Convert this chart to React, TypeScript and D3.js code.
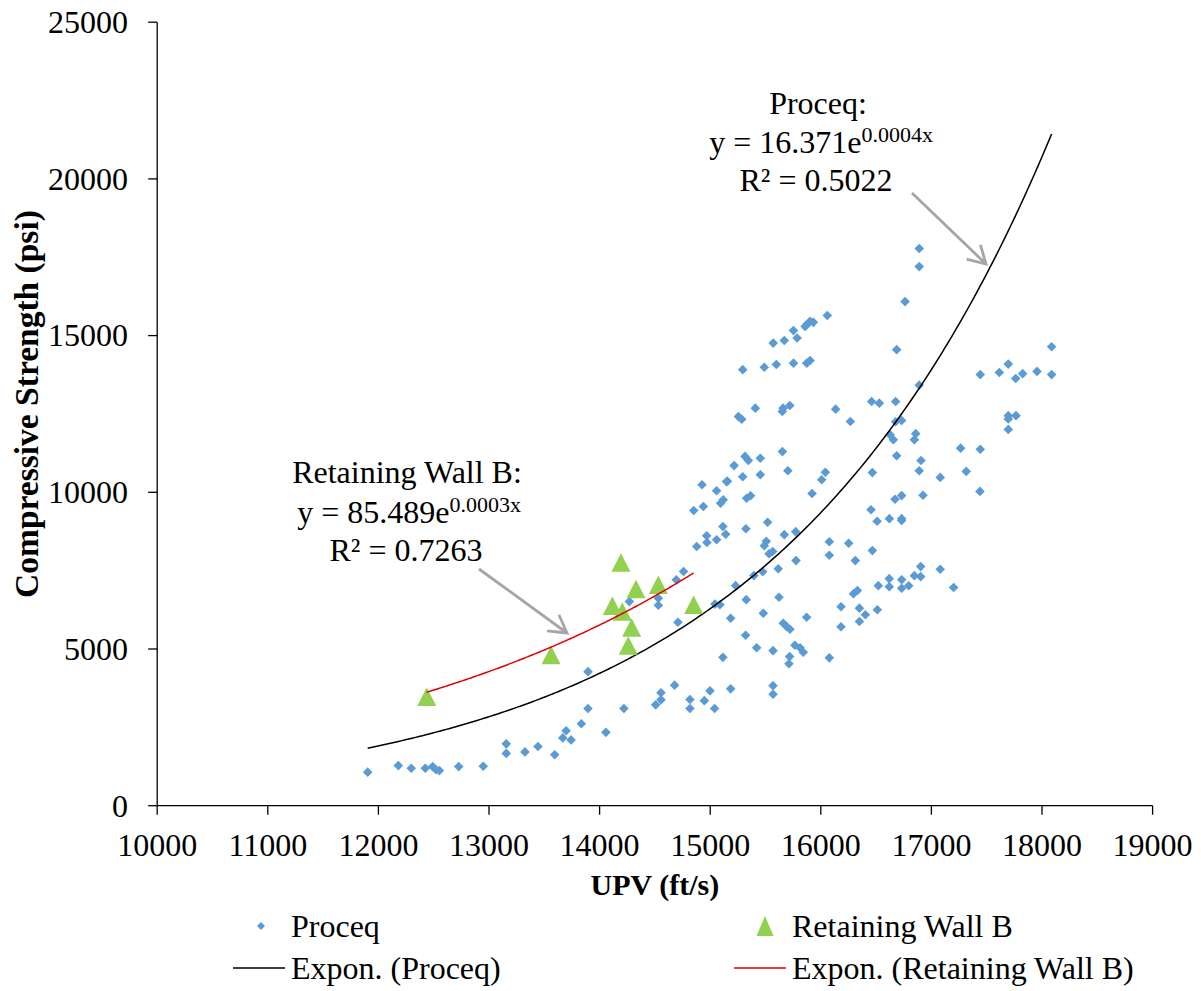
import React from "react";
import * as d3 from "d3";

const proceqUPV = [
  11903, 12180, 12297, 12424, 12491, 12521, 12551, 12726, 12948, 13156, 13156, 13325, 13443, 13594, 13667, 13697, 13742, 13835, 13895, 13895,
  14057, 14220, 14507, 14555, 14555, 14678, 14817, 14817, 14947, 14998, 15040, 15185, 15568, 15568, 15115, 15320, 15420, 15568, 15766, 15812,
  15842, 15718, 15712, 15661, 15691, 15721, 15872, 15185, 15043, 15088, 15326, 15480, 15622, 15230, 15395, 15475, 15615, 15776, 15532, 15565,
  15489, 15507, 15519, 15670, 15773, 15323, 15115, 15140, 14968, 14971, 15058, 14878, 14851, 14938, 15094, 15118, 15329, 15365, 14926, 15058,
  15148, 15921, 16008, 16077, 16077, 16252, 16183, 16183, 16077, 14269, 14531, 14531, 14693, 14759, 14708, 16059, 15903, 15873, 15933, 15858,
  15753, 15786, 15670, 15570, 15294, 15489, 15598, 15753, 15873, 15903, 16686, 15255, 15285, 15408, 15659, 15720, 15652, 16134, 16267, 16460,
  16529, 16677, 16677, 16731, 16626, 16656, 16858, 16846, 16686, 15653, 15315, 15345, 15453, 15216, 15156, 15294, 15453, 15702, 16041, 16466,
  16454, 16671, 16731, 16509, 16620, 16731, 16731, 16890, 16890, 16762, 17442, 17614, 16890, 16906, 16890, 17080, 17264, 17442, 17315, 17439,
  16924, 18087, 18087, 17695, 17762, 17825, 17955, 17695, 17695, 17765, 17695, 16903, 17080, 16846, 16903, 16619, 16731, 16619, 16731, 16795,
  17201, 16312, 16466, 16520, 16331, 16295, 16349, 16403, 16511, 16349,
];
const proceqStrength = [
  1070, 1280, 1197, 1197, 1248, 1145, 1120, 1248, 1259, 1973, 1669, 1717, 1888, 1626, 2164, 2392, 2100, 2615, 3100, 4278,
  2340, 3100, 3218, 3377, 3606, 3847, 3388, 3100, 3352, 3665, 3100, 3728, 3831, 3554, 4734, 5437, 5042, 4947, 5118, 5042,
  4894, 4757, 4527, 5820, 5714, 5629, 6012, 5981, 6433, 6411, 6575, 6139, 6650, 7021, 7342, 7464, 7560, 7821, 8039, 8113,
  8294, 8438, 9045, 8649, 8745, 8837, 8911, 8662, 8614, 8400, 8486, 8272, 9418, 9547, 9652, 9763, 9811, 9891, 10242, 10051,
  10341, 9961, 10402, 8422, 7991, 8375, 6347, 5708, 4718, 6513, 6618, 6395, 7209, 7474, 5852, 15642, 15455, 15350, 15423, 15291,
  15159, 14925, 14844, 14760, 13914, 13988, 14077, 14121, 14121, 14205, 14552, 12416, 12333, 12685, 12685, 12768, 12576, 12653, 12257, 12896,
  12845, 12896, 12250, 12289, 11839, 11679, 11871, 11679, 11168, 11299, 11145, 11015, 11088, 10852, 10354, 10497, 10561, 10689, 10641, 10628,
  9444, 9779, 9895, 9077, 9160, 9160, 9102, 17777, 17202, 16085, 13755, 13821, 13419, 11015, 10689, 10476, 11408, 11375, 10667, 10028,
  9907, 14642, 13755, 14090, 13630, 13786, 13857, 12445, 12338, 12445, 12007, 7630, 7544, 7340, 7310, 7244, 7209, 6989, 6937, 7017,
  6963, 7821, 8140, 7021, 6867, 6761, 6304, 6091, 6251, 5877,
];

const wallUPV = [12437, 13561, 14193, 14329, 14531, 14115, 14205, 14290, 14259, 14850];
const wallStrength = [3480, 4811, 7761, 6911, 7049, 6378, 6196, 5685, 5110, 6410];

// exponential trend parameters as drawn (y = a * e^(b x))
const proceqTrend = { a: 16.2, b: 0.0003974 };
const wallTrend = { a: 89.3, b: 0.0002977 };

const xTicks = [10000, 11000, 12000, 13000, 14000, 15000, 16000, 17000, 18000, 19000];
const yTicks = [0, 5000, 10000, 15000, 20000, 25000];

const FONT = "'Liberation Serif', 'Times New Roman', Times, serif";

function arrowPath(x1: number, y1: number, x2: number, y2: number, arm: number) {
  const ang = Math.atan2(y2 - y1, x2 - x1);
  const a1 = ang + Math.PI - Math.PI / 6;
  const a2 = ang + Math.PI + Math.PI / 6;
  return `M${x1},${y1}L${x2},${y2}M${x2 + arm * Math.cos(a1)},${y2 + arm * Math.sin(a1)}L${x2},${y2}L${x2 + arm * Math.cos(a2)},${y2 + arm * Math.sin(a2)}`;
}

export default function App() {
  const W = 1201, H = 991;
  const x = d3.scaleLinear().domain([10000, 19000]).range([157.2, 1152.6]);
  const y = d3.scaleLinear().domain([0, 25000]).range([805.7, 22.2]);

  const trendLine = (t: { a: number; b: number }, xs: number[]) => {
    const [mn, mx] = d3.extent(xs) as [number, number];
    const pts = d3.range(0, 201).map((i) => mn + ((mx - mn) * i) / 200);
    return d3.line<number>().x((v) => x(v)).y((v) => y(t.a * Math.exp(t.b * v)))(pts) || "";
  };

  const diamond = (cx: number, cy: number, r: number) => `M${cx},${cy - r}L${cx + r},${cy}L${cx},${cy + r}L${cx - r},${cy}Z`;
  const triangle = (cx: number, cy: number, w: number, h: number) => `M${cx},${cy - h / 2}L${cx + w / 2},${cy + h / 2}L${cx - w / 2},${cy + h / 2}Z`;

  const x0 = x(10000), y0 = y(0);

  return (
    <svg width={W} height={H} style={{ position: "absolute", left: 0, top: 0, background: "#fff" }} fontFamily={FONT}>
      <rect width={W} height={H} fill="#fff" />
      {/* axes */}
      <line x1={x0} x2={x(19000)} y1={y0} y2={y0} stroke="#000" strokeWidth={1.3} />
      <line x1={x0} x2={x0} y1={y0} y2={y(25000)} stroke="#000" strokeWidth={1.3} />
      {xTicks.map((t) => (
        <g key={"xt" + t}>
          <line x1={x(t)} x2={x(t)} y1={y0} y2={y0 + 9} stroke="#000" strokeWidth={1.3} />
          <text x={x(t)} y={856} textAnchor="middle" fontSize={32}>{t}</text>
        </g>
      ))}
      {yTicks.map((t) => (
        <g key={"yt" + t}>
          <line x1={x0 - 9} x2={x0} y1={y(t)} y2={y(t)} stroke="#000" strokeWidth={1.3} />
          <text x={128} y={y(t)} dy="0.34em" textAnchor="end" fontSize={32}>{t}</text>
        </g>
      ))}
      <text x={(x0 + x(19000)) / 2} y={895} textAnchor="middle" fontSize={30} fontWeight="bold">UPV (ft/s)</text>
      <text transform={`translate(38,404) rotate(-90)`} textAnchor="middle" fontSize={33.5} fontWeight="bold">Compressive Strength (psi)</text>

      {/* Proceq points */}
      {proceqUPV.map((u, i) => (
        <path key={"p" + i} d={diamond(x(u), y(proceqStrength[i]), 4.8)} fill="#5b9bd5" />
      ))}
      {/* trend lines */}
      <path d={trendLine(proceqTrend, proceqUPV)} fill="none" stroke="#000" strokeWidth={1.5} />
      {/* wall points */}
      {wallUPV.map((u, i) => (
        <path key={"w" + i} d={triangle(x(u), y(wallStrength[i]), 19, 18.5)} fill="#92d050" />
      ))}
      <path d={trendLine(wallTrend, wallUPV)} fill="none" stroke="#e00000" strokeWidth={1.5} />

      {/* annotations */}
      <g fontSize={32} textAnchor="middle">
        <text x={818} y={114}>Proceq:</text>
        <text x={821} y={153}>
          <tspan>y = 16.371e</tspan>
          <tspan dy={-11} fontSize={22}>0.0004x</tspan>
        </text>
        <text x={816} y={191}>R² = 0.5022</text>
        <text x={407} y={483}>Retaining Wall B:</text>
        <text x={409} y={523}>
          <tspan>y = 85.489e</tspan>
          <tspan dy={-11} fontSize={22}>0.0003x</tspan>
        </text>
        <text x={406} y={561}>R² = 0.7263</text>
      </g>
      <path d={arrowPath(912, 193, 986, 264, 20)} fill="none" stroke="#a6a6a6" strokeWidth={2.8} />
      <path d={arrowPath(479, 569, 567, 633, 20)} fill="none" stroke="#a6a6a6" strokeWidth={2.8} />

      {/* legend */}
      <g fontSize={32}>
        <path d={diamond(261, 926, 4)} fill="#5b9bd5" />
        <text x={291} y={937}>Proceq</text>
        <path d={triangle(765, 926, 17, 20)} fill="#92d050" />
        <text x={792} y={937}>Retaining Wall B</text>
        <line x1={233} x2={285} y1={968} y2={968} stroke="#000" strokeWidth={1.5} />
        <text x={291} y={979}>Expon. (Proceq)</text>
        <line x1={734} x2={786} y1={968} y2={968} stroke="#e00000" strokeWidth={1.5} />
        <text x={792} y={979}>Expon. (Retaining Wall B)</text>
      </g>
    </svg>
  );
}
